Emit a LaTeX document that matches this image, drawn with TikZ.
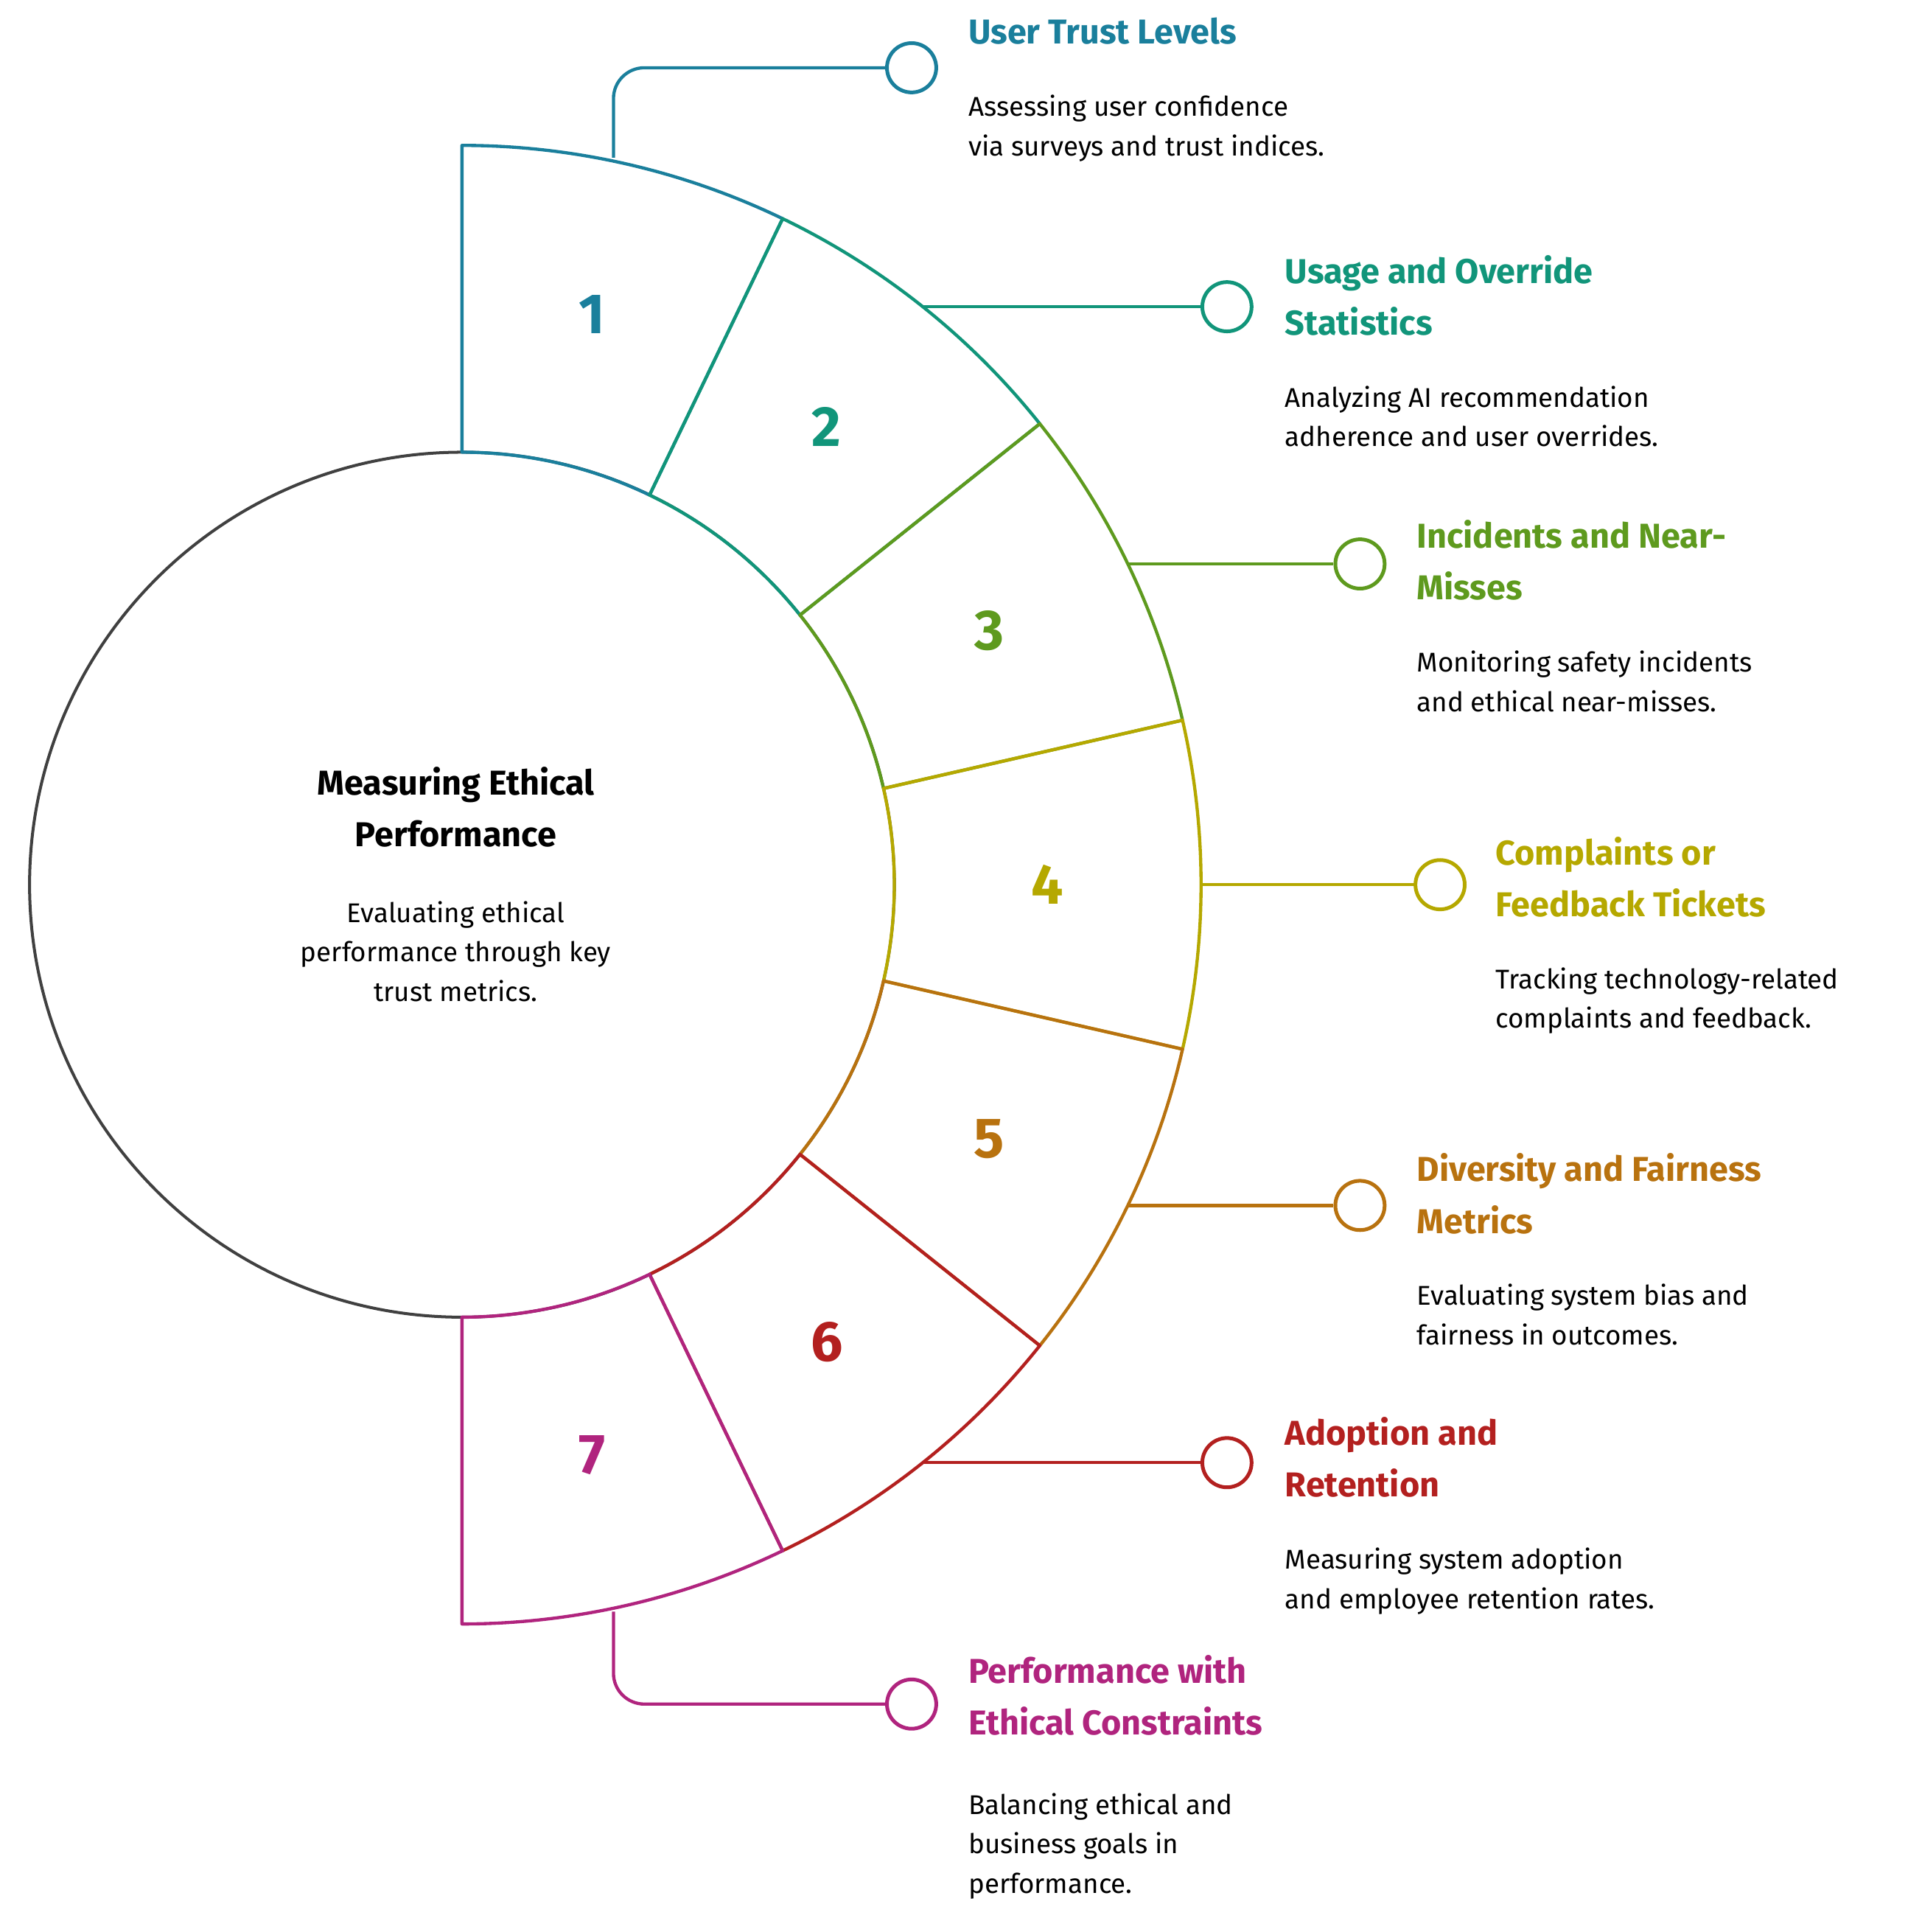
\documentclass[tikz,border=0pt]{standalone}
\usetikzlibrary{calc}
\usepackage{fontspec}
\setmainfont{Fira Sans}
\definecolor{c1}{HTML}{1A7F9C}
\definecolor{c2}{HTML}{11957A}
\definecolor{c3}{HTML}{5E9A1E}
\definecolor{c4}{HTML}{B5A800}
\definecolor{c5}{HTML}{B8720F}
\definecolor{c6}{HTML}{B3201F}
\definecolor{c7}{HTML}{B0247E}
\begin{document}
\begin{tikzpicture}[x=1pt,y=1pt,
  seg/.style={line width=2.6pt,line join=round},
  dot/.style={circle,draw,line width=3pt,minimum size=40pt,inner sep=0pt},
  con/.style={line width=2.6pt,rounded corners=25pt},
  ttl/.style={anchor=north west,inner sep=0pt,align=left,font=\bfseries\fontsize{28}{42}\selectfont},
  bdy/.style={anchor=north west,inner sep=0pt,align=left,font=\fontsize{22}{32}\selectfont},
  num/.style={font=\bfseries\fontsize{46}{50}\selectfont}]
\useasboundingbox (0,0) rectangle (1560,-1568);
\coordinate (O) at (375,-718);
\draw[line width=2.4pt,draw=black!75] (O) circle (351);
\foreach \i/\c in {1/c1,2/c2,3/c3,4/c4,5/c5,6/c6,7/c7}{
  \pgfmathsetmacro\a{90-(\i-1)*180/7}
  \pgfmathsetmacro\b{\a-180/7}
  \pgfmathsetmacro\m{\a-90/7}
  \draw[seg,\c] ($(O)+(\a:351)$) -- ($(O)+(\a:600)$) arc[start angle=\a,end angle=\b,radius=600] -- ($(O)+(\b:351)$) arc[start angle=\b,end angle=\a,radius=351] -- cycle;
  \node[num,\c] (n\i) at ($(O)+(\m:475)$) {\i};
  \coordinate (p\i) at ($(O)+(\m:600)$);
}
\node[dot,c1] (o1) at (740,-55) {};
\node[dot,c2] (o2) at ($(p2 -| 996,0)$) {};
\node[dot,c3] (o3) at ($(p3 -| 1104,0)$) {};
\node[dot,c4] (o4) at ($(p4 -| 1169,0)$) {};
\node[dot,c5] (o5) at ($(p5 -| 1104,0)$) {};
\node[dot,c6] (o6) at ($(p6 -| 996,0)$) {};
\node[dot,c7] (o7) at (740,-1383) {};
\coordinate (q1) at (498,-128);
\coordinate (q7) at (498,-1308);
\draw[con,c1] (q1) |- (o1.west);
\draw[con,c2] (p2) -- (o2.west);
\draw[con,c3] (p3) -- (o3.west);
\draw[con,c4] (p4) -- (o4.west);
\draw[con,c5] (p5) -- (o5.west);
\draw[con,c6] (p6) -- (o6.west);
\draw[con,c7] (q7) |- (o7.west);
\node[ttl,c1] (t1) at (786,-14) {User Trust Levels};
\node[bdy] (b1) at (786,-77) {Assessing user confidence\\via surveys and trust indices.};
\node[ttl,c2] (t2) at (1043,-207) {Usage and Override\\Statistics};
\node[bdy] (b2) at (1043,-313) {Analyzing AI recommendation\\adherence and user overrides.};
\node[ttl,c3] (t3) at (1150,-422) {Incidents and Near-\\Misses};
\node[bdy] (b3) at (1150,-528) {Monitoring safety incidents\\and ethical near-misses.};
\node[ttl,c4] (t4) at (1214,-679) {Complaints or\\Feedback Tickets};
\node[bdy] (b4) at (1214,-785) {Tracking technology-related\\complaints and feedback.};
\node[ttl,c5] (t5) at (1150,-936) {Diversity and Fairness\\Metrics};
\node[bdy] (b5) at (1150,-1042) {Evaluating system bias and\\fairness in outcomes.};
\node[ttl,c6] (t6) at (1043,-1150) {Adoption and\\Retention};
\node[bdy] (b6) at (1043,-1256) {Measuring system adoption\\and employee retention rates.};
\node[ttl,c7] (t7) at (786,-1343) {Performance with\\Ethical Constraints};
\node[bdy] (b7) at (786,-1455) {Balancing ethical and\\business goals in\\performance.};
\node[align=center,inner sep=0pt,font=\bfseries\fontsize{28}{42}\selectfont] (ct) at (370,-655) {Measuring Ethical\\Performance};
\node[align=center,inner sep=0pt,font=\fontsize{22}{32}\selectfont] (cb) at (370,-772) {Evaluating ethical\\performance through key\\trust metrics.};
\end{tikzpicture}
\end{document}
